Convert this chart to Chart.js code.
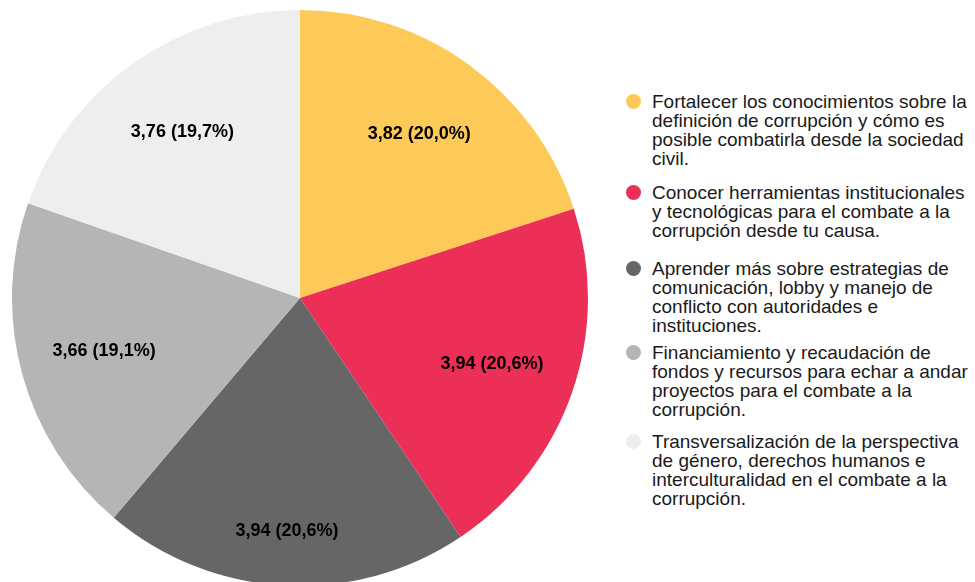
<!DOCTYPE html>
<html>
<head>
<meta charset="utf-8">
<script src="https://cdn.jsdelivr.net/npm/chart.js@4.4.0/dist/chart.umd.min.js"></script>
<style>
  html, body { margin: 0; padding: 0; background: #fff; width: 975px; height: 582px; overflow: hidden; }
  #wrap { position: absolute; left: 0; top: 0; width: 600px; height: 600px; }
  #legend { position: absolute; left: 626px; top: 0; font-family: "Liberation Sans", Arial, sans-serif; font-size: 19px; line-height: 19px; color: #1a1a1a; }
  .item { position: absolute; left: 0; width: 349px; padding-left: 26px; box-sizing: border-box; }
  .dot { position: absolute; left: 0; top: 2px; width: 15px; height: 15px; border-radius: 50%; }
</style>
</head>
<body>
<div id="wrap"><canvas id="pieChart"></canvas></div>
<div id="legend"></div>
<script>
var labels = [
    'Fortalecer los conocimientos sobre la definición de corrupción y cómo es posible combatirla desde la sociedad civil.',
    'Conocer herramientas institucionales y tecnológicas para el combate a la corrupción desde tu causa.',
    'Aprender más sobre estrategias de comunicación, lobby y manejo de conflicto con autoridades e instituciones.',
    'Financiamiento y recaudación de fondos y recursos para echar a andar proyectos para el combate a la corrupción.',
    'Transversalización de la perspectiva de género, derechos humanos e interculturalidad en el combate a la corrupción.'
];
var values = [3.82, 3.94, 3.94, 3.66, 3.76];
var colors = ['#fdca5a', '#ec2f56', '#666666', '#b5b5b5', '#eeeeee'];

// where to put the value label inside each slice (fraction of radius)
var labelRadius = [0.705, 0.705, 0.81, 0.705, 0.705];
// top of each legend entry, px
var legendTops = [92, 183, 259, 343, 432];

function fmt(v, d) {
    return v.toFixed(d).replace('.', ',');
}

var sliceLabels = {
    id: 'sliceLabels',
    afterDatasetsDraw: function (chart) {
        var ctx = chart.ctx;
        var meta = chart.getDatasetMeta(0);
        var total = values.reduce(function (a, b) { return a + b; }, 0);
        ctx.save();
        ctx.font = 'bold 18px "Liberation Sans", Arial, sans-serif';
        ctx.fillStyle = '#000';
        ctx.textAlign = 'center';
        ctx.textBaseline = 'middle';
        meta.data.forEach(function (arc, i) {
            var mid = (arc.startAngle + arc.endAngle) / 2;
            var r = arc.outerRadius * labelRadius[i];
            var x = arc.x + Math.cos(mid) * r;
            var y = arc.y + Math.sin(mid) * r;
            ctx.fillText(fmt(values[i], 2) + ' (' + fmt(values[i] / total * 100, 1) + '%)', x, y);
        });
        ctx.restore();
    }
};

var pieChartCanvas = document.getElementById('pieChart').getContext('2d');
var pieChart = new Chart(pieChartCanvas, {
    type: 'pie',
    data: {
        labels: labels,
        datasets: [{
            data: values,
            backgroundColor: colors,
            borderWidth: 0
        }]
    },
    options: {
        responsive: true,
        maintainAspectRatio: false,
        animation: false,
        layout: { padding: { top: 10, bottom: 14, left: 12, right: 12 } },
        plugins: {
            legend: { display: false },
            tooltip: { enabled: false }
        }
    },
    plugins: [sliceLabels]
});

// html legend so the long labels wrap
var legend = document.getElementById('legend');
labels.forEach(function (txt, i) {
    var item = document.createElement('div');
    item.className = 'item';
    item.style.top = legendTops[i] + 'px';
    var dot = document.createElement('span');
    dot.className = 'dot';
    dot.style.background = colors[i];
    item.appendChild(dot);
    item.appendChild(document.createTextNode(txt));
    legend.appendChild(item);
});
</script>
</body>
</html>
